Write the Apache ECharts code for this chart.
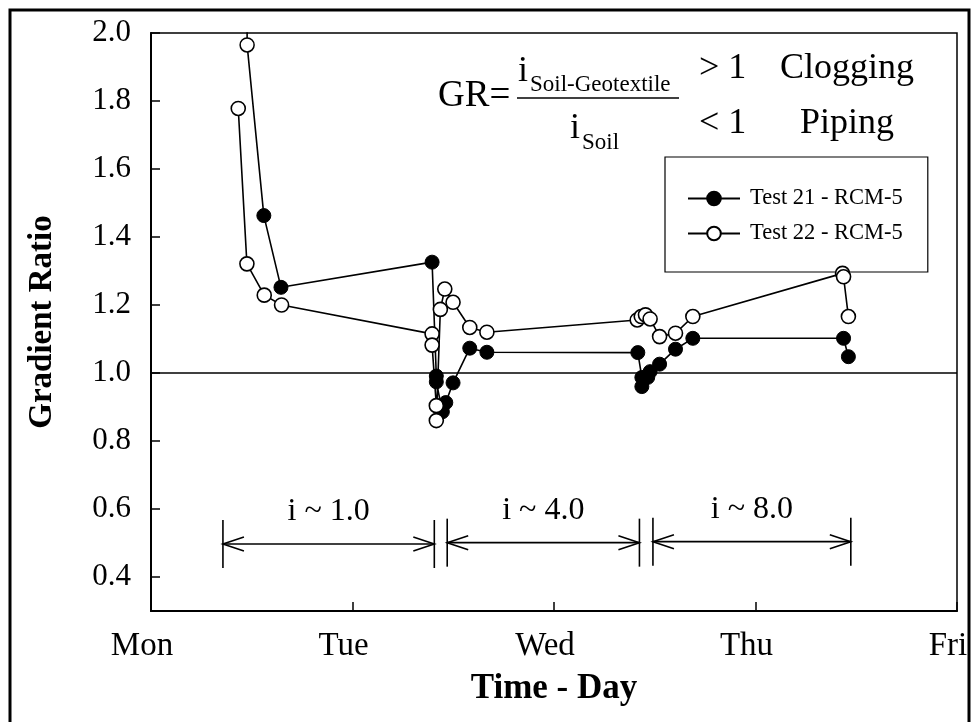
<!DOCTYPE html>
<html>
<head>
<meta charset="utf-8">
<script src="https://cdn.jsdelivr.net/npm/echarts@6/dist/echarts.min.js"></script>
<style>
html,body{margin:0;padding:0;background:#fff;}
#chart{width:973px;height:722px;}
</style>
</head>
<body>
<div id="chart"></div>
<script>
// ---- data (time in days from Monday) ----
const dayLabels = ['Mon', 'Tue', 'Wed', 'Thu', 'Fri'];
const yTickValues = [0.4, 0.6, 0.8, 1.0, 1.2, 1.4, 1.6, 1.8, 2.0];

const test21Time = [0.477, 0.477, 0.560, 0.645, 1.395, 1.416, 1.416, 1.446, 1.463, 1.499, 1.582, 1.667,
                    2.416, 2.436, 2.436, 2.465, 2.477, 2.524, 2.603, 2.689, 3.437, 3.461];
const test21GR   = [2.10, 1.965, 1.463, 1.252, 1.326, 0.991, 0.974, 0.886, 0.913, 0.971, 1.073, 1.061,
                    1.060, 0.987, 0.960, 0.987, 1.004, 1.026, 1.070, 1.102, 1.102, 1.048];
const test21Hollow = [1]; // index of a point drawn hollow in the original

const test22Time = [0.433, 0.476, 0.562, 0.648, 1.395, 1.395, 1.416, 1.416, 1.436, 1.458, 1.499, 1.582, 1.667,
                    2.413, 2.433, 2.454, 2.477, 2.524, 2.603, 2.689, 3.432, 3.437, 3.461];
const test22GR   = [1.778, 1.321, 1.229, 1.200, 1.115, 1.082, 0.904, 0.860, 1.187, 1.247, 1.208, 1.134, 1.120,
                    1.156, 1.166, 1.171, 1.159, 1.107, 1.117, 1.166, 1.293, 1.283, 1.166];

const spanStart = [0.357, 1.470, 2.491];
const spanEnd   = [1.406, 2.424, 3.473];
const spanLevel = [0.497, 0.501, 0.504];
const spanLabel = ['i ~ 1.0', 'i ~ 4.0', 'i ~ 8.0'];

const referenceGR = 1.0;

// ---- build ----
const FONT = 'Liberation Serif';
const BLACK = '#000';

const s21 = test21Time.map((t, i) => {
  const v = [t, test21GR[i]];
  if (test21Hollow.indexOf(i) >= 0) {
    return { value: v, itemStyle: { color: '#fff', borderColor: BLACK, borderWidth: 1.5 } };
  }
  return v;
});
const s22 = test22Time.map((t, i) => [t, test22GR[i]]);
const spans = spanStart.map((s, i) => [s, spanEnd[i], spanLevel[i], i]);

const chart = echarts.init(document.getElementById('chart'), null, { renderer: 'canvas' });

function txt(text, x, y, size, align, extra) {
  return Object.assign({
    type: 'text', x: x, y: y, silent: true,
    style: { text: text, font: size + 'px "' + FONT + '"', fill: BLACK, align: align || 'left', verticalAlign: 'middle' }
  }, extra || {});
}

const option = {
  animation: false,
  backgroundColor: '#fff',
  grid: { left: 151, top: 33, right: 16, bottom: 111, show: true, borderColor: BLACK, borderWidth: 1.5, backgroundColor: 'transparent' },
  xAxis: {
    type: 'value', min: 0, max: 4, interval: 1,
    name: 'Time - Day', nameLocation: 'middle', nameGap: 60,
    nameTextStyle: { fontFamily: FONT, fontWeight: 'bold', fontSize: 35, color: BLACK },
    axisLine: { show: true, onZero: false, lineStyle: { color: BLACK, width: 2 } },
    axisTick: { show: true, inside: true, length: 9, lineStyle: { color: BLACK, width: 1.5 } },
    axisLabel: {
      fontFamily: FONT, fontSize: 33, color: BLACK, margin: 19, padding: [0, 18, 0, 0],
      formatter: v => dayLabels[Math.round(v)] || ''
    },
    splitLine: { show: false }
  },
  yAxis: {
    type: 'value', min: 0.3, max: 2.0,
    name: 'Gradient Ratio', nameLocation: 'middle', nameGap: 92,
    nameTextStyle: { fontFamily: FONT, fontWeight: 'bold', fontSize: 33, color: BLACK },
    axisLine: { show: true, onZero: false, lineStyle: { color: BLACK, width: 2 } },
    axisTick: { show: true, inside: true, length: 9, lineStyle: { color: BLACK, width: 1.5 }, customValues: yTickValues },
    axisLabel: {
      fontFamily: FONT, fontSize: 31, color: BLACK, margin: 20, customValues: yTickValues,
      formatter: v => v.toFixed(1)
    },
    splitLine: { show: false }
  },
  legend: {
    orient: 'vertical', left: 665, top: 157,
    padding: [30, 25, 27, 22], itemGap: 12, itemWidth: 52, itemHeight: 17,
    borderColor: BLACK, borderWidth: 1.2, backgroundColor: '#fff',
    textStyle: { fontFamily: FONT, fontSize: 22.5, color: BLACK, padding: [0, 0, 0, 5] },
    data: ['Test 21 - RCM-5', 'Test 22 - RCM-5']
  },
  series: [
    {
      name: 'Test 21 - RCM-5', type: 'line', data: s21, z: 3,
      symbol: 'circle', symbolSize: 14, showAllSymbol: true,
      lineStyle: { color: BLACK, width: 1.6 },
      itemStyle: { color: BLACK, borderColor: BLACK, borderWidth: 1 },
      emphasis: { disabled: true },
      markLine: {
        silent: true, symbol: 'none', animation: false,
        label: { show: false },
        lineStyle: { color: BLACK, width: 1.5, type: 'solid' },
        data: [{ yAxis: referenceGR }]
      }
    },
    {
      name: 'Test 22 - RCM-5', type: 'line', data: s22, z: 4,
      symbol: 'circle', symbolSize: 14, showAllSymbol: true,
      lineStyle: { color: BLACK, width: 1.6 },
      itemStyle: { color: '#fff', borderColor: BLACK, borderWidth: 1.6 },
      emphasis: { disabled: true }
    },
    {
      type: 'custom', data: spans, silent: true, z: 2,
      encode: { x: [0, 1], y: 2 },
      renderItem: function (params, api) {
        const a = api.coord([api.value(0), api.value(2)]);
        const b = api.coord([api.value(1), api.value(2)]);
        const idx = api.value(3);
        const y = a[1];
        const st = { stroke: BLACK, lineWidth: 1.6, fill: null };
        const head = 21, hh = 7, bar = 24;
        return {
          type: 'group',
          children: [
            { type: 'line', shape: { x1: a[0], y1: y, x2: b[0], y2: y }, style: st },
            { type: 'polyline', shape: { points: [[a[0] + head, y - hh], [a[0], y], [a[0] + head, y + hh]] }, style: st },
            { type: 'polyline', shape: { points: [[b[0] - head, y - hh], [b[0], y], [b[0] - head, y + hh]] }, style: st },
            { type: 'line', shape: { x1: a[0], y1: y - bar, x2: a[0], y2: y + bar }, style: st },
            { type: 'line', shape: { x1: b[0], y1: y - bar, x2: b[0], y2: y + bar }, style: st },
            {
              type: 'text', x: (a[0] + b[0]) / 2, y: y - 32,
              style: { text: spanLabel[idx], font: '32px "' + FONT + '"', fill: BLACK, align: 'center', verticalAlign: 'middle' }
            }
          ]
        };
      }
    }
  ],
  graphic: [
    { type: 'rect', silent: true, z: 100, shape: { x: 10, y: 10, width: 959, height: 740 }, style: { fill: null, stroke: BLACK, lineWidth: 3 } },
    txt('GR=', 438, 96, 37),
    { type: 'line', silent: true, shape: { x1: 517, y1: 98, x2: 679, y2: 98 }, style: { stroke: BLACK, lineWidth: 1.5 } },
    txt('i', 518, 72, 36),
    txt('Soil-Geotextile', 530, 85, 23),
    txt('i', 570, 129, 36),
    txt('Soil', 582, 143, 23),
    txt('> 1', 699, 69, 36),
    txt('Clogging', 780, 69, 36),
    txt('< 1', 699, 124, 36),
    txt('Piping', 800, 124, 36)
  ]
};

chart.setOption(option);
</script>
</body>
</html>
